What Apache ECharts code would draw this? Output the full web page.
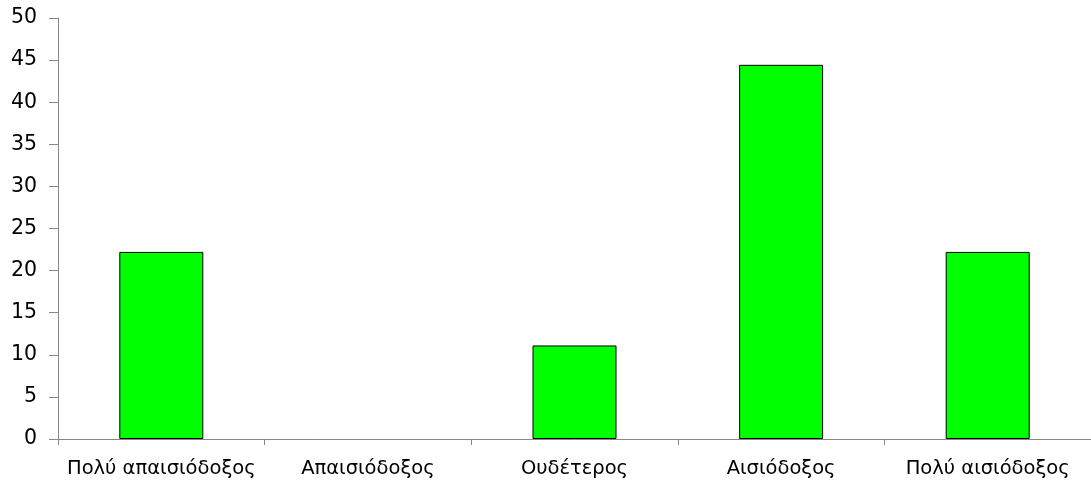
<!DOCTYPE html>
<html><head><meta charset="utf-8">
<script src="https://cdn.jsdelivr.net/npm/echarts@6/dist/echarts.min.js"></script>
<style>html,body{margin:0;padding:0;background:#fff}#c{width:1091px;height:486px}</style>
</head><body><div id="c"></div>
<script>
const categories = ['Πολύ απαισιόδοξος','Απαισιόδοξος','Ουδέτερος','Αισιόδοξος','Πολύ αισιόδοξος'];
const values = [22.22, 0, 11.11, 44.44, 22.22];
const chart = echarts.init(document.getElementById('c'));
chart.setOption({
  animation:false,
  grid:{left:58,right:0,top:18,bottom:47,containLabel:false},
  xAxis:{type:'category',data:categories,
    axisLine:{lineStyle:{color:'#888',width:1}},
    axisTick:{show:true,length:6,alignWithLabel:false,lineStyle:{color:'#888'}},
    axisLabel:{color:'#000',fontFamily:'DejaVu Sans',fontSize:19.5,margin:20,interval:0}},
  yAxis:{type:'value',min:0,max:50,interval:5,
    axisLine:{show:true,lineStyle:{color:'#888',width:1}},
    axisTick:{show:true,length:9,lineStyle:{color:'#888'}},
    splitLine:{show:false},
    axisLabel:{color:'#000',fontFamily:'DejaVu Sans',fontSize:20.5,margin:21}},
  series:[{type:'bar',barWidth:84,
    data:values.map(v => v === 0 ? {value:v, itemStyle:{borderWidth:0}} : v),
    itemStyle:{color:'#00ff00',borderColor:'#000',borderWidth:1}}]
});
</script></body></html>
